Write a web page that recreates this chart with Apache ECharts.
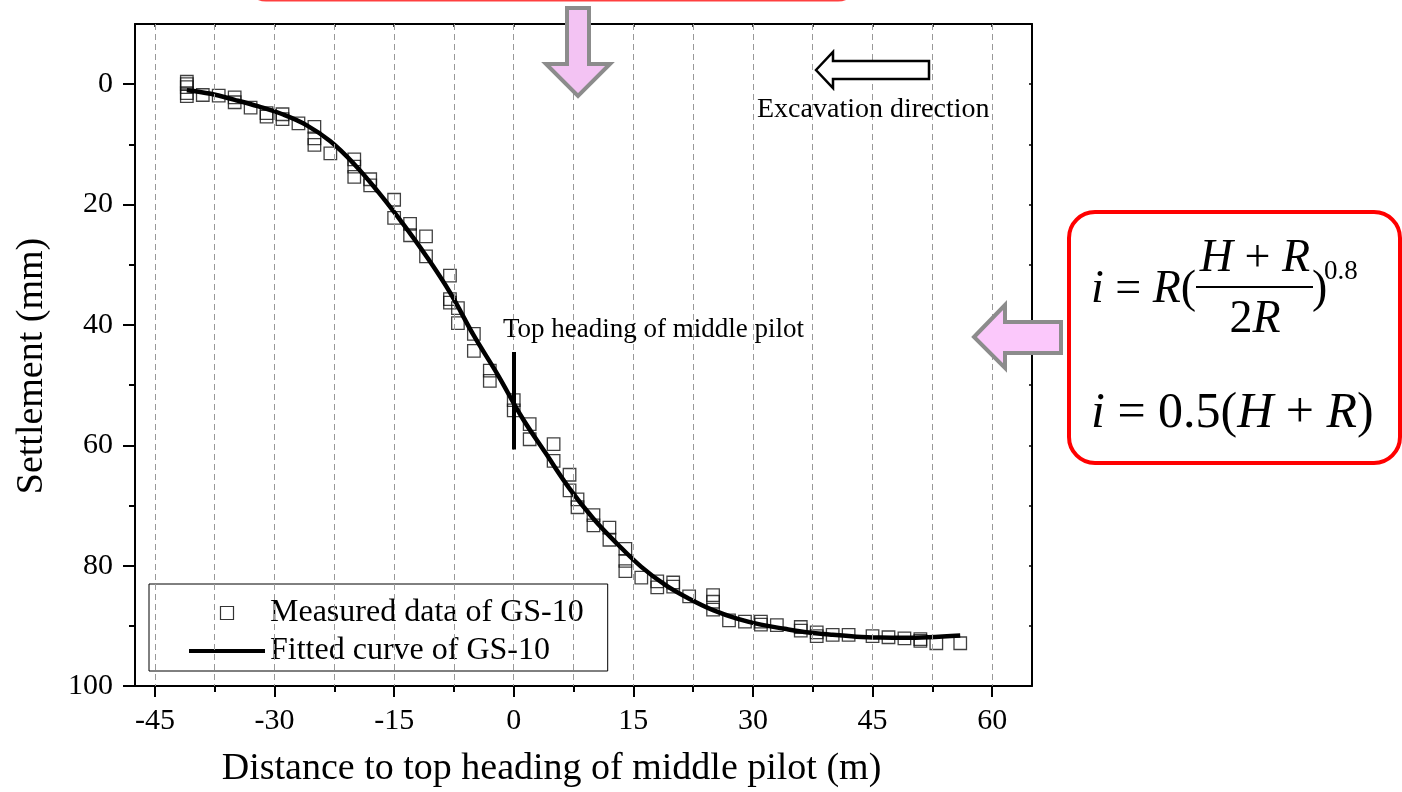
<!DOCTYPE html>
<html>
<head>
<meta charset="utf-8">
<title>GS-10 settlement</title>
<script src="https://cdn.jsdelivr.net/npm/echarts@6/dist/echarts.min.js"></script>
<style>
  html, body { margin: 0; padding: 0; background: #fff; }
  #chart { width: 1402px; height: 792px; }
</style>
</head>
<body>
<div id="chart"></div>
<script>
// 实测点 (距离 m, 沉降 mm)
const measuredX = [
  -41, -41, -41, -41, -41, -39, -37, -35, -35, -33, -31, -31, -29, -29, -27,
  -25, -25, -25, -23, -20, -20, -20, -18, -18, -15, -15, -13, -13, -11, -11,
  -8, -8, -8, -7, -7, -5, -5, -3, -3, 0, 0, 2, 2, 5, 5, 7, 7, 8, 8, 10, 10,
  12, 12, 14, 14, 14, 16, 18, 18, 20, 20, 22, 25, 25, 25, 27, 29, 31, 31, 33,
  36, 36, 38, 38, 40, 42, 45, 47, 49, 51, 51, 53, 56
]
const measuredY = [
  -0.4, 0, 0.5, 1.5, 2.0, 1.8, 1.9, 2.2, 3.0, 3.9, 4.8, 5.4, 5.0, 5.8, 6.5,
  7.1, 9.0, 10.1, 11.5, 12.5, 13.7, 15.4, 15.8, 16.8, 19.2, 22.2, 23.2, 25.1, 25.3, 28.6,
  31.8, 35.7, 36.3, 37.2, 39.7, 41.5, 44.3, 47.6, 49.3, 52.5, 54.2, 56.5, 59.0, 59.8, 62.6, 64.9, 67.5, 69.0, 70.3, 71.6, 73.3,
  73.7, 75.7, 77.2, 79.2, 80.9, 82.0, 82.6, 83.6, 82.8, 83.5, 85.1, 84.9, 86.0, 87.3, 89.1, 89.3, 89.3, 89.8, 89.9,
  90.2, 90.8, 91.1, 91.7, 91.5, 91.5, 91.7, 91.9, 92.1, 92.2, 92.5, 92.9, 92.9
]

// 拟合曲线
const fittedX = [-41, -38, -35, -32, -29, -26, -23, -20, -17, -14, -11, -8, -5, -2, 1,
  4, 7, 10, 13, 16, 19, 22, 25, 28, 31, 34, 37, 40, 43, 46, 49, 52, 56]
const fittedY = [1.0, 1.6, 2.6, 3.7, 5.0, 6.8, 9.5, 13.3, 17.9, 23.0, 28.5, 34.6, 41.8, 48.3, 55.3,
  61.3, 67.2, 72.2, 76.4, 80.2, 83.2, 85.5, 87.4, 88.8, 89.8, 90.5, 91.1, 91.5, 91.8, 91.95, 92.0, 91.9, 91.6]

// 刻度
const xMajorTicks = [-45, -30, -15, 0, 15, 30, 45, 60]
const xMinorTicks = [-37.5, -22.5, -7.5, 7.5, 22.5, 37.5, 52.5]
const xGridValues = [-45, -37.5, -30, -22.5, -15, -7.5, 0, 7.5, 15, 22.5, 30, 37.5, 45, 52.5, 60]
const yMajorTicks = [0, 20, 40, 60, 80, 100]
const yMinorTicks = [10, 30, 50, 70, 90]
const yAllTicks = [0, 10, 20, 30, 40, 50, 60, 70, 80, 90, 100]

// 上台阶位置标记 (x = 0 处的竖线范围)
const headingMarkX = 0
const headingMarkY = [44.5, 60.7]

const FONT = 'Liberation Serif, Times New Roman, serif'

let myChart = echarts.init(document.getElementById('chart'), null, { renderer: 'canvas' })

let option = {
  animation: false,
  backgroundColor: '#fff',
  grid: { left: 135, top: 24, right: 370, bottom: 106, outerBoundsMode: 'none' },
  legend: {
    orient: 'vertical',
    left: 149,
    top: 584,
    padding: [13, 24, 4, 38],
    itemGap: 6,
    itemWidth: 76,
    itemHeight: 13,
    borderColor: '#000',
    borderWidth: 1,
    textStyle: { fontSize: 32, fontFamily: FONT, color: '#000' },
    data: [
      {
        name: 'Measured data of GS-10',
        icon: 'path://M0,0L10,0L10,10L0,10Z',
        itemStyle: { color: 'rgba(0,0,0,0)', borderColor: '#000', borderWidth: 1.2 }
      },
      {
        name: 'Fitted curve of GS-10',
        itemStyle: { color: 'rgba(0,0,0,0)', borderWidth: 0 },
        lineStyle: { color: '#000', width: 4 }
      }
    ]
  },
  xAxis: [
    {
      type: 'value',
      position: 'bottom',
      min: -47.5,
      max: 65,
      name: 'Distance to top heading of middle pilot (m)',
      nameLocation: 'middle',
      nameGap: 64,
      nameTextStyle: { fontSize: 38, fontFamily: FONT, color: '#000', padding: [0, 64, 0, 0] },
      axisLine: { onZero: false, lineStyle: { color: '#000', width: 2 } },
      axisTick: { customValues: xMajorTicks, length: 11, lineStyle: { color: '#000', width: 2 } },
      axisLabel: { customValues: xMajorTicks, margin: 20, fontSize: 30, fontFamily: FONT, color: '#000' },
      splitLine: { show: false }
    },
    {
      type: 'value',
      position: 'bottom',
      min: -47.5,
      max: 65,
      axisLine: { show: false, onZero: false },
      axisTick: { customValues: xMinorTicks, length: 6, lineStyle: { color: '#000', width: 2 } },
      axisLabel: { show: false },
      splitLine: { show: false }
    },
    {
      type: 'value',
      position: 'top',
      min: -47.5,
      max: 65,
      axisLine: { onZero: false, lineStyle: { color: '#000', width: 2 } },
      axisTick: { inside: true, customValues: xGridValues, length: 3, lineStyle: { color: '#000', width: 1.5 } },
      axisLabel: { show: false },
      splitLine: { show: false }
    }
  ],
  yAxis: [
    {
      type: 'value',
      position: 'left',
      inverse: true,
      min: -10,
      max: 100,
      name: 'Settlement (mm)',
      nameLocation: 'middle',
      nameGap: 84,
      nameTextStyle: { fontSize: 38, fontFamily: FONT, color: '#000', padding: [0, 22, 0, 0] },
      axisLine: { onZero: false, lineStyle: { color: '#000', width: 2 } },
      axisTick: { customValues: yMajorTicks, length: 12, lineStyle: { color: '#000', width: 2 } },
      axisLabel: { customValues: yMajorTicks, margin: 22, fontSize: 30, fontFamily: FONT, color: '#000' },
      splitLine: { show: false }
    },
    {
      type: 'value',
      position: 'left',
      inverse: true,
      min: -10,
      max: 100,
      axisLine: { show: false, onZero: false },
      axisTick: { customValues: yMinorTicks, length: 6, lineStyle: { color: '#000', width: 2 } },
      axisLabel: { show: false },
      splitLine: { show: false }
    },
    {
      type: 'value',
      position: 'right',
      inverse: true,
      min: -10,
      max: 100,
      axisLine: { onZero: false, lineStyle: { color: '#000', width: 2 } },
      axisTick: { inside: true, customValues: yAllTicks, length: 3, lineStyle: { color: '#000', width: 1.5 } },
      axisLabel: { show: false },
      splitLine: { show: false }
    }
  ],
  series: [
    {
      // 竖向虚线网格
      name: 'grid',
      type: 'line',
      data: [],
      z: 1,
      silent: true,
      markLine: {
        silent: true,
        symbol: 'none',
        label: { show: false },
        lineStyle: { color: '#999', width: 1, type: [6, 4] },
        data: xGridValues.map(v => ({ xAxis: v }))
      }
    },
    {
      name: 'Measured data of GS-10',
      type: 'scatter',
      z: 3,
      symbol: 'rect',
      symbolSize: 12.5,
      itemStyle: { color: 'rgba(0,0,0,0)', borderColor: '#111', borderWidth: 1.3 },
      data: measuredX.map((x, i) => [x, measuredY[i]])
    },
    {
      name: 'Fitted curve of GS-10',
      type: 'line',
      z: 4,
      smooth: 0.4,
      symbol: 'none',
      lineStyle: { color: '#000', width: 4.5 },
      itemStyle: { color: '#000' },
      data: fittedX.map((x, i) => [x, fittedY[i]]),
      markLine: {
        silent: true,
        symbol: 'none',
        label: { show: false },
        lineStyle: { color: '#000', width: 4, type: 'solid' },
        data: [[{ coord: [headingMarkX, headingMarkY[0]] }, { coord: [headingMarkX, headingMarkY[1]] }]]
      }
    }
  ],
  graphic: [
    // 顶部红框(只露出底边)
    {
      type: 'rect', z: 50,
      shape: { x: 246, y: -60, width: 612, height: 60, r: 20 },
      style: { fill: '#fff', stroke: '#ff4040', lineWidth: 3 }
    },
    // 向下粉色箭头
    {
      type: 'polygon', z: 60,
      shape: { points: [[567, 8], [589, 8], [589, 64], [610, 64], [578, 96], [546, 64], [567, 64]] },
      style: { fill: '#f3c3f3', stroke: '#8c8c8c', lineWidth: 4 }
    },
    // 开挖方向箭头
    {
      type: 'polygon', z: 60,
      shape: { points: [[816, 70], [833, 52], [833, 61], [929, 61], [929, 79], [833, 79], [833, 88]] },
      style: { fill: '#fff', stroke: '#000', lineWidth: 2.5 }
    },
    {
      type: 'text', z: 60, x: 757, y: 110,
      style: { text: 'Excavation direction', font: '28px ' + FONT, fill: '#000', verticalAlign: 'middle' }
    },
    {
      type: 'text', z: 60, x: 503, y: 330,
      style: { text: 'Top heading of middle pilot', font: '27px ' + FONT, fill: '#000', verticalAlign: 'middle' }
    },
    // 向左粉色箭头
    {
      type: 'polygon', z: 60,
      shape: { points: [[974, 337], [1005, 305], [1005, 322], [1061, 322], [1061, 353], [1005, 353], [1005, 368]] },
      style: { fill: '#fbc8fb', stroke: '#8c8c8c', lineWidth: 4 }
    },
    // 公式框
    {
      type: 'rect', z: 60,
      shape: { x: 1069, y: 212, width: 331, height: 251, r: 26 },
      style: { fill: '#fff', stroke: '#ff0000', lineWidth: 4 }
    },
    {
      type: 'text', z: 61, x: 1091, y: 290,
      style: {
        text: '{it|i} = {it|R}(',
        font: '46px ' + FONT, fill: '#000', verticalAlign: 'middle',
        rich: { it: { fontStyle: 'italic', fontSize: 46, fontFamily: FONT } }
      }
    },
    {
      type: 'text', z: 61, x: 1255, y: 259,
      style: {
        text: '{it|H} + {it|R}',
        font: '46px ' + FONT, fill: '#000', align: 'center', verticalAlign: 'middle',
        rich: { it: { fontStyle: 'italic', fontSize: 46, fontFamily: FONT } }
      }
    },
    {
      type: 'line', z: 61,
      shape: { x1: 1196, y1: 287, x2: 1313, y2: 287 },
      style: { stroke: '#000', lineWidth: 2 }
    },
    {
      type: 'text', z: 61, x: 1255, y: 320,
      style: {
        text: '2{it|R}',
        font: '46px ' + FONT, fill: '#000', align: 'center', verticalAlign: 'middle',
        rich: { it: { fontStyle: 'italic', fontSize: 46, fontFamily: FONT } }
      }
    },
    {
      type: 'text', z: 61, x: 1312, y: 290,
      style: { text: ')', font: '46px ' + FONT, fill: '#000', verticalAlign: 'middle' }
    },
    {
      type: 'text', z: 61, x: 1324, y: 272,
      style: { text: '0.8', font: '27px ' + FONT, fill: '#000', verticalAlign: 'middle' }
    },
    {
      type: 'text', z: 61, x: 1091, y: 414,
      style: {
        text: '{it|i} = 0.5({it|H} + {it|R})',
        font: '50px ' + FONT, fill: '#000', verticalAlign: 'middle',
        rich: { it: { fontStyle: 'italic', fontSize: 50, fontFamily: FONT } }
      }
    }
  ]
}

myChart.setOption(option)
</script>
</body>
</html>
